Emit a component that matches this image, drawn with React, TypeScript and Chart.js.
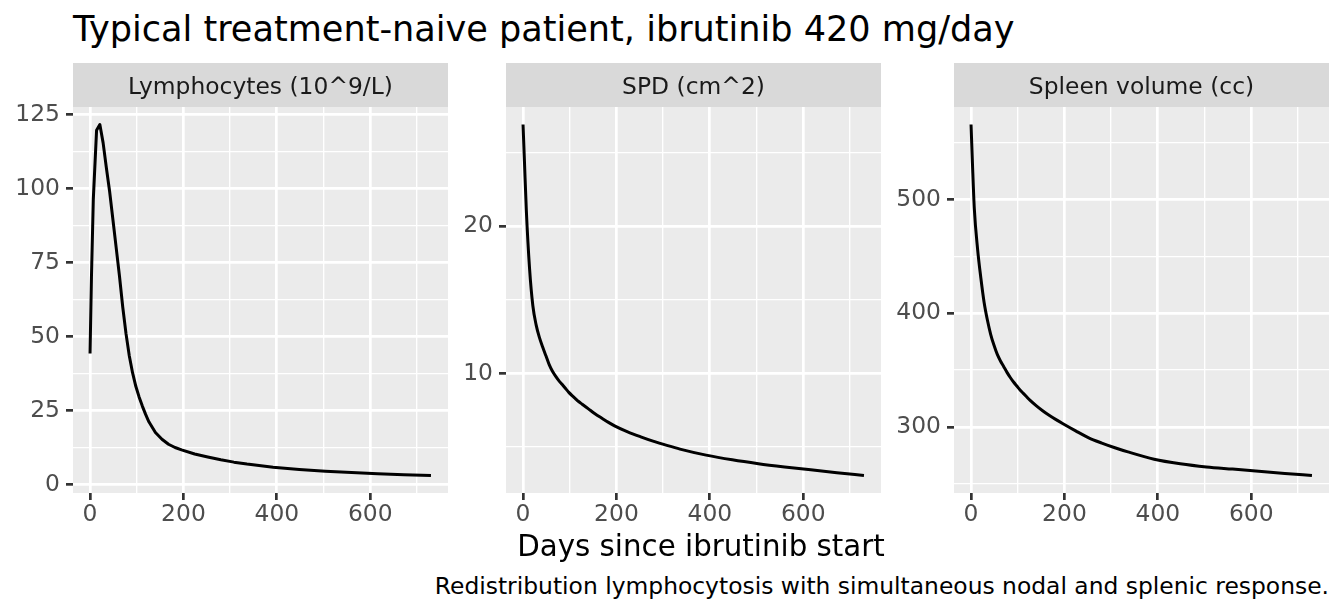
import React, { useEffect, useRef } from "react";
import { Chart, registerables } from "chart.js";

Chart.register(...registerables);

// ---- data ----
const days = [0, 3, 7, 14, 21, 28, 35, 42, 49, 56, 63, 70, 77, 84, 91, 98, 105, 112, 119, 126, 140, 154, 168, 182, 196, 224, 252, 280, 308, 336, 392, 448, 504, 560, 616, 672, 730];
const lymphocytes = [44.3, 70, 96.5, 119.8, 121.7, 115.5, 107, 99, 89.5, 80, 70.5, 60, 51, 43.5, 37.8, 33.2, 29.6, 26.5, 23.7, 21.2, 17.6, 15.3, 13.6, 12.5, 11.7, 10.3, 9.3, 8.35, 7.55, 6.9, 5.85, 5.1, 4.5, 4.05, 3.65, 3.33, 3.05];
const spd = [26.9, 24.4, 21.1, 17.1, 14.6, 13.3, 12.45, 11.8, 11.2, 10.6, 10.15, 9.8, 9.5, 9.25, 8.98, 8.72, 8.5, 8.3, 8.1, 7.93, 7.6, 7.27, 6.98, 6.7, 6.45, 6.04, 5.7, 5.39, 5.12, 4.87, 4.46, 4.14, 3.88, 3.66, 3.46, 3.27, 3.08];
const spleen = [566, 532, 492, 456.5, 431, 409.5, 394, 381.5, 372, 364, 358, 353, 348, 343.5, 339.5, 336, 332.5, 329.5, 326.5, 323.5, 318.5, 314, 310, 306.4, 303, 296.5, 290.4, 285.8, 281.7, 278, 271.6, 267.6, 264.8, 262.9, 261, 259.1, 257.3];

const panelTitles = ["Lymphocytes (10^9/L)", "SPD (cm^2)", "Spleen volume (cc)"];
const xMajorTicks = [0, 200, 400, 600];
const xMinorTicks = [100, 300, 500, 700];
const yMajorTicks = [
  [0, 25, 50, 75, 100, 125],
  [10, 20],
  [300, 400, 500],
];
const yMinorTicks = [
  [12.5, 37.5, 62.5, 87.5, 112.5],
  [5, 15, 25],
  [250, 350, 450, 550],
];

const plotTitle = "Typical treatment-naive patient, ibrutinib 420 mg/day";
const xAxisTitle = "Days since ibrutinib start";
const captionText = "Redistribution lymphocytosis with simultaneous nodal and splenic response.";

// ---- layout / style ----
const FONT = "'DejaVu Sans', 'Liberation Sans', sans-serif";
const SMALL = 23.4;
const PANEL_LEFTS = [73, 506, 954];
const PANEL_W = 375;
const STRIP_TOP = 63;
const STRIP_H = 44;
const PANEL_H = 386;
const Y_AXIS_W = 70;
const X_AXIS_H = 40;
const RIGHT_PAD = 4;
const X_MIN = -36.5;
const X_MAX = 766.5;
const SMOOTH = [false, true, true];

const seriesList = [lymphocytes, spd, spleen];

function expandRange(vals: number[]) {
  const mn = Math.min(...vals);
  const mx = Math.max(...vals);
  const pad = (mx - mn) * 0.05;
  return { min: mn - pad, max: mx + pad };
}

function Panel({ index }: { index: number }) {
  const ref = useRef<HTMLCanvasElement | null>(null);
  const width = Y_AXIS_W + PANEL_W + RIGHT_PAD;
  const height = STRIP_H + PANEL_H + X_AXIS_H;

  useEffect(() => {
    if (!ref.current) return;
    const values = seriesList[index];
    const yr = expandRange(values);
    const yMaj = yMajorTicks[index];
    const yMin = yMinorTicks[index];
    const xTicksAll = [...xMajorTicks, ...xMinorTicks].sort((a, b) => a - b);
    const yTicksAll = [...yMaj, ...yMin].sort((a, b) => a - b);

    const panelPlugin = {
      id: "ggpanel",
      beforeDraw(chart: any) {
        const { ctx, chartArea } = chart;
        ctx.save();
        ctx.fillStyle = "#EBEBEB";
        ctx.fillRect(chartArea.left, chartArea.top, chartArea.right - chartArea.left, chartArea.bottom - chartArea.top);
        ctx.fillStyle = "#D9D9D9";
        ctx.fillRect(chartArea.left, chartArea.top - STRIP_H, chartArea.right - chartArea.left, STRIP_H);
        ctx.fillStyle = "#1A1A1A";
        ctx.font = `${SMALL}px ${FONT}`;
        ctx.textAlign = "center";
        ctx.textBaseline = "alphabetic";
        ctx.fillText(panelTitles[index], (chartArea.left + chartArea.right) / 2, chartArea.top - STRIP_H + 30.5);
        ctx.restore();
      },
    };

    const dataset: any = {
      data: days.map((d, i) => ({ x: d, y: values[i] })),
      borderColor: "#000000",
      borderWidth: 3,
      pointRadius: 0,
      fill: false,
      borderJoinStyle: "round",
    };
    if (SMOOTH[index]) dataset.cubicInterpolationMode = "monotone";
    else dataset.tension = 0;

    const chart = new Chart(ref.current, {
      type: "line",
      data: { datasets: [dataset] },
      options: {
        responsive: false,
        animation: false,
        events: [],
        layout: { padding: { top: STRIP_H, right: RIGHT_PAD, left: 0, bottom: 0 } },
        plugins: { legend: { display: false }, tooltip: { enabled: false }, title: { display: false } },
        scales: {
          x: {
            type: "linear",
            min: X_MIN,
            max: X_MAX,
            afterBuildTicks: (scale: any) => {
              scale.ticks = xTicksAll.map((v) => ({ value: v }));
            },
            afterFit: (scale: any) => {
              scale.height = X_AXIS_H;
            },
            ticks: {
              autoSkip: false,
              maxRotation: 0,
              minRotation: 0,
              padding: 1,
              color: "#4D4D4D",
              font: { family: FONT, size: SMALL },
              callback: (v: any) => (xMajorTicks.includes(Number(v)) ? String(v) : ""),
            },
            grid: {
              color: "#FFFFFF",
              lineWidth: (c: any) => (c.tick && xMajorTicks.includes(c.tick.value) ? 2.7 : 1.35),
              tickColor: (c: any) => (c.tick && xMajorTicks.includes(c.tick.value) ? "#333333" : "rgba(0,0,0,0)"),
              tickWidth: 2.7,
              tickLength: 7,
              drawTicks: true,
            },
            border: { display: false },
          },
          y: {
            type: "linear",
            min: yr.min,
            max: yr.max,
            afterBuildTicks: (scale: any) => {
              scale.ticks = yTicksAll.map((v) => ({ value: v }));
            },
            afterFit: (scale: any) => {
              scale.width = Y_AXIS_W;
            },
            ticks: {
              autoSkip: false,
              padding: 6,
              color: "#4D4D4D",
              font: { family: FONT, size: SMALL },
              callback: (v: any) => (yMaj.includes(Number(v)) ? String(v) : ""),
            },
            grid: {
              color: "#FFFFFF",
              lineWidth: (c: any) => (c.tick && yMaj.includes(c.tick.value) ? 2.7 : 1.35),
              tickColor: (c: any) => (c.tick && yMaj.includes(c.tick.value) ? "#333333" : "rgba(0,0,0,0)"),
              tickWidth: 2.7,
              tickLength: 7,
              drawTicks: true,
            },
            border: { display: false },
          },
        },
      },
      plugins: [panelPlugin],
    } as any);

    return () => {
      chart.destroy();
    };
  }, [index]);

  return (
    <canvas
      ref={ref}
      width={width}
      height={height}
      style={{
        position: "absolute",
        left: PANEL_LEFTS[index] - Y_AXIS_W,
        top: STRIP_TOP,
        width,
        height,
      }}
    />
  );
}

export default function App() {
  return (
    <div
      style={{
        position: "absolute",
        left: 0,
        top: 0,
        width: 1344,
        height: 614,
        background: "#FFFFFF",
        overflow: "hidden",
        fontFamily: FONT,
      }}
    >
      <div
        style={{
          position: "absolute",
          left: 73,
          top: 11,
          fontSize: 35.1,
          lineHeight: "35px",
          color: "#000000",
          whiteSpace: "nowrap",
        }}
      >
        {plotTitle}
      </div>
      {panelTitles.map((_, i) => (
        <Panel key={i} index={i} />
      ))}
      <div
        style={{
          position: "absolute",
          left: 73,
          width: 1256,
          top: 532,
          fontSize: 29.3,
          lineHeight: "29px",
          textAlign: "center",
          color: "#000000",
          whiteSpace: "nowrap",
        }}
      >
        {xAxisTitle}
      </div>
      <div
        style={{
          position: "absolute",
          left: 0,
          width: 1329,
          top: 575,
          fontSize: SMALL,
          lineHeight: "23px",
          textAlign: "right",
          color: "#000000",
          whiteSpace: "nowrap",
        }}
      >
        {captionText}
      </div>
    </div>
  );
}
